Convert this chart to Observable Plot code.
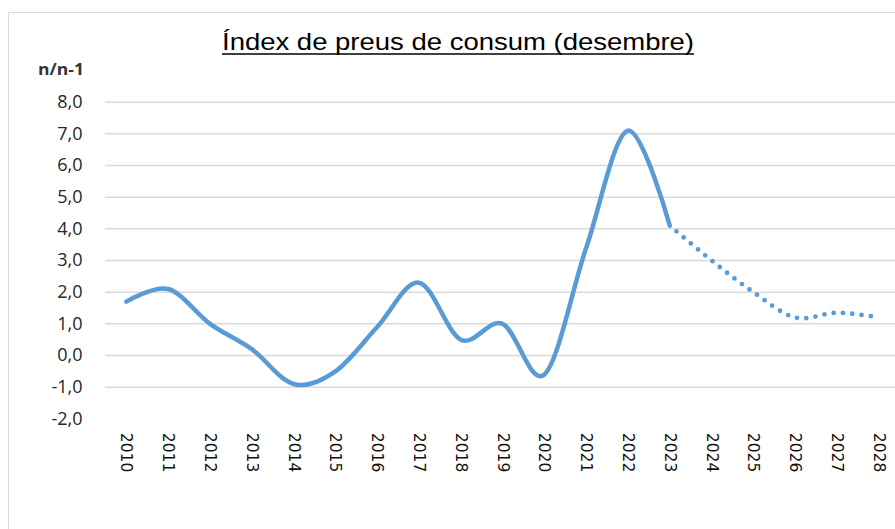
<!DOCTYPE html>
<html><head><meta charset="utf-8">
<script src="https://cdn.jsdelivr.net/npm/d3@7"></script>
<script src="https://cdn.jsdelivr.net/npm/@observablehq/plot@0.6"></script>
<style>
body{margin:0;background:#fff;}
#wrap{position:relative;width:895px;height:529px;overflow:hidden;}
#frame{position:absolute;left:8px;top:12px;width:1000px;height:1000px;border:1.5px solid #d9d9d9;box-sizing:border-box;}
#chart{position:absolute;left:0;top:0;}
</style></head><body>
<div id="wrap"><div id="frame"></div><div id="chart"></div></div>
<script>
const titleText = "Índex de preus de consum (desembre)";
const unitLabel = "n/n-1";
const years = [2010,2011,2012,2013,2014,2015,2016,2017,2018,2019,2020,2021,2022,2023,2024,2025,2026,2027,2028];
const actualYears = [2010,2011,2012,2013,2014,2015,2016,2017,2018,2019,2020,2021,2022,2023];
const actualValues = [1.7,2.1,1.0,0.2,-0.9,-0.5,0.9,2.3,0.5,1.0,-0.6,3.4,7.1,4.1];
const forecastYears = [2023,2024,2025,2026,2027,2028];
const forecastValues = [4.1,3.0,2.0,1.2,1.35,1.2];
const yTicks = [-2,-1,0,1,2,3,4,5,6,7,8];
const gridTicks = [-1,0,1,2,3,4,5,6,7,8];

const actual = actualYears.map((year,i)=>({year, value: actualValues[i]}));
const forecast = forecastYears.map((year,i)=>({year, value: forecastValues[i]}));
const blue = "#5b9bd5";

const plot = Plot.plot({
  width: 895, height: 529,
  marginLeft: 105, marginRight: 0, marginTop: 101.7, marginBottom: 110.7,
  style: {background: "transparent", fontFamily: "Open Sans", overflow: "visible"},
  x: {domain: [2009.5, 2028.4], axis: null},
  y: {domain: [-2, 8], axis: null},
  marks: [
    Plot.ruleY(gridTicks, {stroke: "#d9d9d9", strokeWidth: 1.5, x1: 2009.5, x2: 2029}),
    Plot.axisY(yTicks, {label: null, tickSize: 0, tickPadding: 23, fontSize: 18, fill: "#262626", tickFormat: d => d.toFixed(1).replace(".", ",")}),
    Plot.axisX(years, {label: null, tickSize: 0, tickPadding: 14, tickRotate: 90, fontSize: 15.5, fontFamily: "DejaVu Sans", fill: "#111", tickFormat: d => `${d}`}),
    Plot.line(actual, {x: "year", y: "value", curve: "cardinal", stroke: blue, strokeWidth: 4.5, strokeLinecap: "round", strokeLinejoin: "round"}),
    Plot.line(forecast, {x: "year", y: "value", curve: "cardinal", stroke: blue, strokeWidth: 4.8, strokeLinecap: "round", strokeDasharray: "0 9.3", strokeDashoffset: -9})
  ]
});
document.getElementById("chart").appendChild(plot);

const svg = d3.select(plot);
svg.append("text")
  .attr("x", 222).attr("y", 50)
  .attr("text-anchor", "start")
  .attr("font-family", "Liberation Sans, Arial, sans-serif")
  .attr("font-size", 24)
  .attr("fill", "#000")
  .attr("textLength", 472).attr("lengthAdjust", "spacingAndGlyphs")
  .text(titleText);
svg.append("line")
  .attr("x1", 222).attr("x2", 694).attr("y1", 54).attr("y2", 54)
  .attr("stroke", "#000").attr("stroke-width", 1.5);
svg.append("text")
  .attr("x", 84).attr("y", 75)
  .attr("text-anchor", "end")
  .attr("font-family", "Open Sans, sans-serif")
  .attr("font-weight", "bold")
  .attr("font-size", 15.5)
  .attr("fill", "#333")
  .attr("textLength", 46).attr("lengthAdjust", "spacingAndGlyphs")
  .text(unitLabel);
</script>
</body></html>
